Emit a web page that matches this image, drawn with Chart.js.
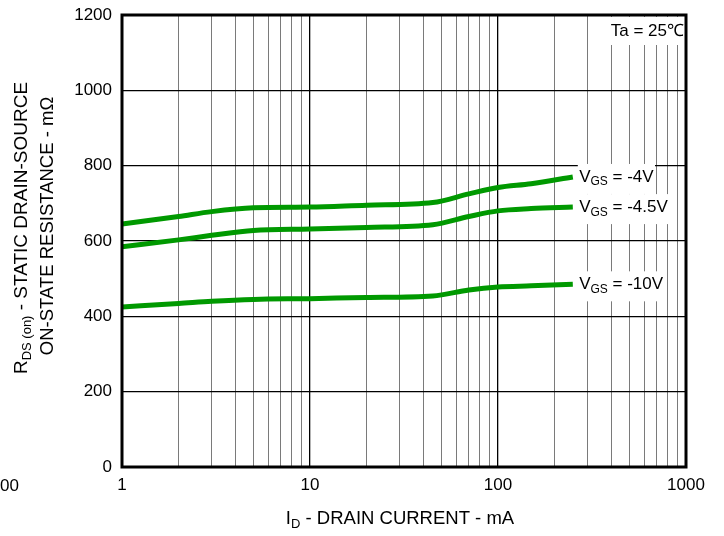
<!DOCTYPE html>
<html>
<head>
<meta charset="UTF-8">
<title>RDS(on) vs ID</title>
<style>
  html, body { margin: 0; padding: 0; background: #fff; }
  #wrap { width: 724px; height: 536px; }
</style>
<script src="https://cdn.jsdelivr.net/npm/chart.js"></script>
</head>
<body>
<div id="wrap"><canvas id="c" width="724" height="536"></canvas></div>
<script>
// data (ID in mA, RDS(on) in mOhm)
const current = [1, 2, 3, 5, 10, 20, 45, 70, 100, 150, 250];
const rdsVgs4 = [645, 665, 678, 688, 690, 695, 702, 725, 742, 752, 770];
const rdsVgs45 = [585, 603, 615, 628, 632, 636, 643, 665, 680, 686, 690];
const rdsVgs10 = [425, 434, 440, 445, 447, 450, 454, 470, 478, 481, 485];
const seriesNames = ['-4V', '-4.5V', '-10V'];
const xTicks = [1, 10, 100, 1000];
const yTicks = [0, 200, 400, 600, 800, 1000, 1200];

const FONT = '"Liberation Sans", Arial, sans-serif';
const GREEN = '#009900';

function pts(ys) { return current.map((x, i) => ({ x: x, y: ys[i] })); }

// draws text pieces like [['R'], ['DS (on)', true], [' - ...']] centered at (cx, cy)
function richText(ctx, parts, cx, cy, size) {
  const subSize = Math.round(size * 0.7);
  let w = 0;
  parts.forEach(p => {
    ctx.font = (p[1] ? subSize : size) + 'px ' + FONT;
    w += ctx.measureText(p[0]).width;
  });
  let x = cx - w / 2;
  ctx.textAlign = 'left';
  ctx.textBaseline = 'middle';
  parts.forEach(p => {
    ctx.font = (p[1] ? subSize : size) + 'px ' + FONT;
    ctx.fillText(p[0], x, p[1] ? cy + size * 0.3 : cy);
    x += ctx.measureText(p[0]).width;
  });
  return w;
}

const decor = {
  id: 'decor',
  afterDraw(chart) {
    const ctx = chart.ctx;
    const a = chart.chartArea;
    const xs = chart.scales.x, ys = chart.scales.y;
    ctx.save();

    // Ta label
    ctx.fillStyle = '#fff';
    ctx.fillRect(a.right - 80, a.top + 2, 78, 28);
    ctx.fillStyle = '#000';
    ctx.font = '17px ' + FONT;
    ctx.textAlign = 'right';
    ctx.textBaseline = 'middle';
    ctx.fillText('Ta = 25\u2103', a.right - 2, a.top + 16);

    // series labels at the curve ends
    chart.data.datasets.forEach((ds, i) => {
      const last = ds.data[ds.data.length - 1];
      const px = xs.getPixelForValue(last.x) + 8;
      const py = ys.getPixelForValue(last.y);
      const parts = [['V'], ['GS', true], [' = ' + seriesNames[i]]];
      ctx.font = '17px ' + FONT;
      const tw = ctx.measureText('V = ' + seriesNames[i]).width + 14;
      ctx.fillStyle = '#fff';
      ctx.fillRect(px - 3, py - 13, tw + 6, 30);
      ctx.fillStyle = '#000';
      richText(ctx, parts, px + tw / 2, py, 17);
    });

    // plot frame
    ctx.strokeStyle = '#000';
    ctx.lineWidth = 3;
    ctx.strokeRect(a.left, a.top, a.right - a.left, a.bottom - a.top);

    // axis titles
    ctx.fillStyle = '#000';
    richText(ctx, [['I'], ['D', true], [' - DRAIN CURRENT - mA']], 400, 519, 18.5);
    ctx.save();
    ctx.translate(22, 228);
    ctx.rotate(-Math.PI / 2);
    richText(ctx, [['R'], ['DS (on)', true], [' - STATIC DRAIN-SOURCE']], 0, 0, 19);
    ctx.restore();
    ctx.save();
    ctx.translate(48, 226);
    ctx.rotate(-Math.PI / 2);
    richText(ctx, [['ON-STATE RESISTANCE - m\u03A9']], 0, 0, 18.5);
    ctx.restore();

    // clipped tick label at far left edge
    ctx.font = '17px ' + FONT;
    ctx.textAlign = 'right';
    ctx.textBaseline = 'middle';
    ctx.fillText('100', 19, 486);
    ctx.restore();
  }
};

function isMajor(v) {
  return xTicks.includes(v);
}

new Chart(document.getElementById('c'), {
  type: 'line',
  data: {
    datasets: [rdsVgs4, rdsVgs45, rdsVgs10].map(d => ({
      data: pts(d),
      borderColor: GREEN,
      borderWidth: 5,
      pointRadius: 0,
      fill: false,
      cubicInterpolationMode: 'monotone'
    }))
  },
  options: {
    responsive: false,
    animation: false,
    layout: { padding: { top: 15, right: 38, left: 0, bottom: 0 } },
    plugins: { legend: { display: false }, tooltip: { enabled: false } },
    scales: {
      x: {
        type: 'logarithmic',
        min: 1,
        max: 1000,
        afterFit(s) { s.height = 69; s.paddingLeft = 0; s.paddingRight = 0; },
        afterBuildTicks(s) {
          const t = [];
          for (let d = 1; d < 1000; d *= 10) {
            for (let k = 1; k < 10; k++) t.push({ value: d * k });
          }
          t.push({ value: 1000 });
          s.ticks = t;
        },
        ticks: {
          autoSkip: false,
          maxRotation: 0,
          padding: 8,
          color: '#000',
          font: { family: FONT, size: 17 },
          callback: v => (isMajor(v) ? String(v) : '')
        },
        grid: {
          drawTicks: false,
          color: c => (isMajor(c.tick.value) ? '#000' : '#7a7a7a'),
          lineWidth: c => (isMajor(c.tick.value) ? 1.3 : 1)
        },
        border: { display: false }
      },
      y: {
        min: 0,
        max: 1200,
        afterFit(s) { s.width = 122; s.paddingTop = 0; s.paddingBottom = 0; },
        afterBuildTicks(s) { s.ticks = yTicks.map(v => ({ value: v })); },
        ticks: {
          padding: 10,
          color: '#000',
          font: { family: FONT, size: 17 },
          callback: v => String(v)
        },
        grid: { drawTicks: false, color: '#000', lineWidth: 1.3 },
        border: { display: false }
      }
    }
  },
  plugins: [decor]
});
</script>
</body>
</html>
